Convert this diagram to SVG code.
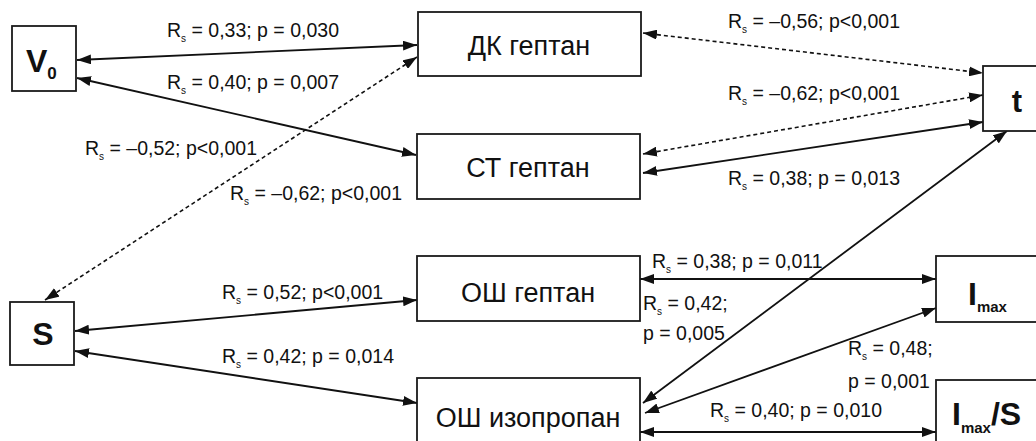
<svg xmlns="http://www.w3.org/2000/svg" width="1036" height="441" viewBox="0 0 1036 441">
<style>
.box{fill:#fff;stroke:#1a1a1a;stroke-width:1.8}
.name{font-family:"Liberation Sans",Arial,sans-serif;font-size:27px;fill:#111;text-anchor:middle}
.big{font-family:"Liberation Sans",Arial,sans-serif;font-weight:bold;fill:#111}
.lbl{font-family:"Liberation Sans",Arial,sans-serif;font-size:19.5px;fill:#111}
.sub{font-size:10px}
.ln{fill:none;stroke:#111;stroke-width:1.8;marker-start:url(#ah);marker-end:url(#ah)}
.dash{stroke-dasharray:4 3;stroke-width:1.6}
</style>
<defs>
<marker id="ah" viewBox="0 0 14 10" refX="14" refY="5" markerWidth="14" markerHeight="10" markerUnits="userSpaceOnUse" orient="auto-start-reverse">
<path d="M0,0 L14,5 L0,10 Z" fill="#111"/>
</marker>
</defs>
<rect width="1036" height="441" fill="#fff"/>

<g id="connectors">
<line class="ln" x1="77" y1="60" x2="417" y2="45"/>
<line class="ln" x1="77" y1="78" x2="416" y2="155"/>
<line class="ln dash" x1="45" y1="300" x2="417" y2="57"/>
<line class="ln dash" x1="643" y1="33" x2="983" y2="73"/>
<line class="ln dash" x1="643" y1="154" x2="983" y2="95"/>
<line class="ln" x1="643" y1="173" x2="983" y2="122"/>
<line class="ln" x1="1007" y1="131" x2="643" y2="403"/>
<line class="ln" x1="640" y1="279" x2="936" y2="279"/>
<line class="ln" x1="645" y1="413" x2="936" y2="308"/>
<line class="ln" x1="640" y1="432" x2="936" y2="432"/>
<line class="ln" x1="75" y1="331" x2="417" y2="300"/>
<line class="ln" x1="75" y1="351" x2="417" y2="403"/>
</g>

<g id="labels">
<text class="lbl" x="167" y="37">R<tspan class="sub" dy="5">s</tspan><tspan dy="-5"> = 0,33; p = 0,030</tspan></text>
<text class="lbl" x="167" y="89">R<tspan class="sub" dy="5">s</tspan><tspan dy="-5"> = 0,40; p = 0,007</tspan></text>
<text class="lbl" x="85" y="155">R<tspan class="sub" dy="5">s</tspan><tspan dy="-5"> = –0,52; p&lt;0,001</tspan></text>
<text class="lbl" x="230" y="200">R<tspan class="sub" dy="5">s</tspan><tspan dy="-5"> = –0,62; p&lt;0,001</tspan></text>
<text class="lbl" x="728" y="28">R<tspan class="sub" dy="5">s</tspan><tspan dy="-5"> = –0,56; p&lt;0,001</tspan></text>
<text class="lbl" x="728" y="100">R<tspan class="sub" dy="5">s</tspan><tspan dy="-5"> = –0,62; p&lt;0,001</tspan></text>
<text class="lbl" x="728" y="185">R<tspan class="sub" dy="5">s</tspan><tspan dy="-5"> = 0,38; p = 0,013</tspan></text>
<text class="lbl" x="652" y="268">R<tspan class="sub" dy="5">s</tspan><tspan dy="-5"> = 0,38; p = 0,011</tspan></text>
<text class="lbl" x="643" y="310">R<tspan class="sub" dy="5">s</tspan><tspan dy="-5"> = 0,42;</tspan></text>
<text class="lbl" x="643" y="340">p = 0,005</text>
<text class="lbl" x="848" y="355">R<tspan class="sub" dy="5">s</tspan><tspan dy="-5"> = 0,48;</tspan></text>
<text class="lbl" x="848" y="388">p = 0,001</text>
<text class="lbl" x="222" y="299">R<tspan class="sub" dy="5">s</tspan><tspan dy="-5"> = 0,52; p&lt;0,001</tspan></text>
<text class="lbl" x="222" y="363">R<tspan class="sub" dy="5">s</tspan><tspan dy="-5"> = 0,42; p = 0,014</tspan></text>
<text class="lbl" x="710" y="417">R<tspan class="sub" dy="5">s</tspan><tspan dy="-5"> = 0,40; p = 0,010</tspan></text>
</g>

<g id="node-V0">
<rect class="box" x="12" y="26" width="64" height="65"/>
<text class="big" x="26" y="72" font-size="32">V<tspan font-size="17" dy="7">0</tspan></text>
</g>
<g id="node-S">
<rect class="box" x="10" y="302" width="64" height="63"/>
<text class="big" x="43" y="345" font-size="32" text-anchor="middle">S</text>
</g>
<g id="node-DK">
<rect class="box" x="418" y="12" width="223" height="64"/>
<text class="name" x="529" y="55">ДК гептан</text>
</g>
<g id="node-ST">
<rect class="box" x="417" y="134" width="223" height="65"/>
<text class="name" x="528" y="177">СТ гептан</text>
</g>
<g id="node-OSh-heptane">
<rect class="box" x="417" y="256" width="223" height="65"/>
<text class="name" x="528" y="302">ОШ гептан</text>
</g>
<g id="node-OSh-isopropane">
<rect class="box" x="417" y="378" width="223" height="80"/>
<text class="name" x="528" y="427">ОШ изопропан</text>
</g>
<g id="node-t">
<rect class="box" x="983" y="66" width="80" height="65"/>
<text class="big" x="1017" y="112" font-size="31" text-anchor="middle">t</text>
</g>
<g id="node-Imax">
<rect class="box" x="936" y="256" width="120" height="66"/>
<text class="big" x="968" y="305" font-size="32">I<tspan font-size="15" dy="7">max</tspan></text>
</g>
<g id="node-ImaxS">
<rect class="box" x="936" y="380" width="120" height="80"/>
<text class="big" x="952" y="425" font-size="32">I<tspan font-size="15" dy="8">max</tspan><tspan dy="-8">/S</tspan></text>
</g>
</svg>
